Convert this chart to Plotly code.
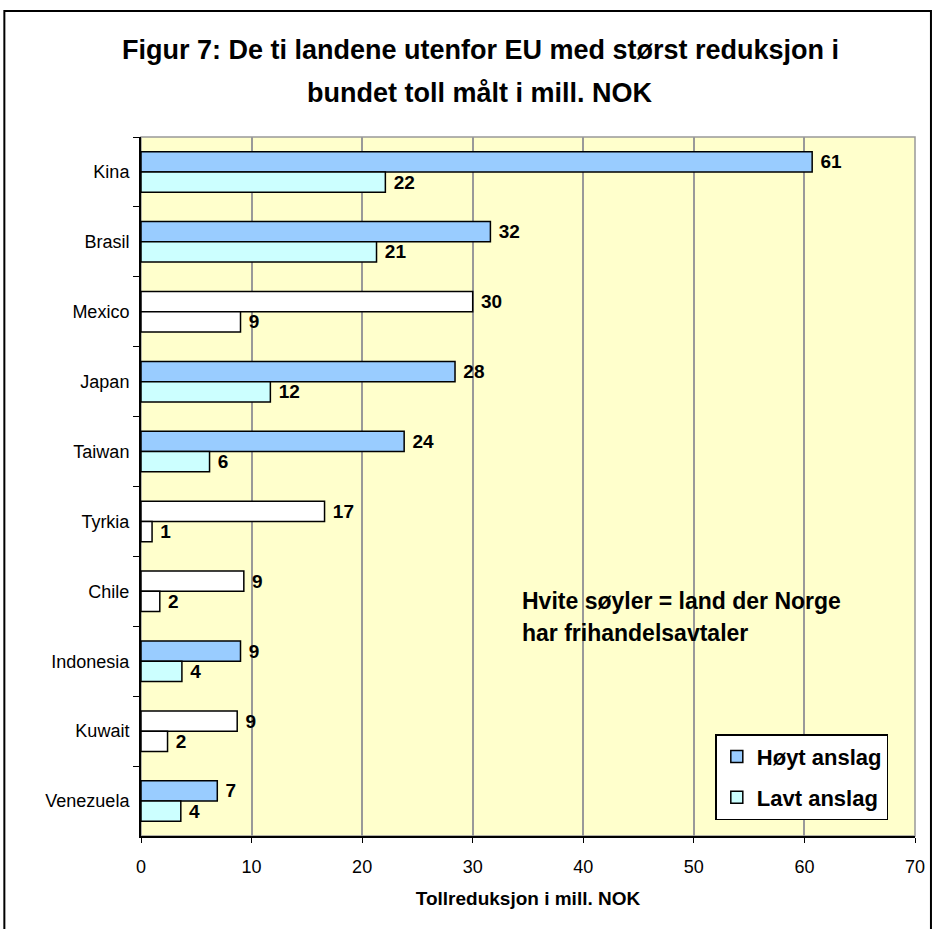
import plotly.graph_objects as go

# Data
countries = ['Kina', 'Brasil', 'Mexico', 'Japan', 'Taiwan',
             'Tyrkia', 'Chile', 'Indonesia', 'Kuwait', 'Venezuela']
high = [60.7, 31.6, 30.0, 28.4, 23.8, 16.6, 9.3, 9.0, 8.7, 6.9]
low = [22.1, 21.3, 9.0, 11.7, 6.2, 1.0, 1.7, 3.7, 2.4, 3.6]
free_trade = ['Mexico', 'Tyrkia', 'Chile', 'Kuwait']

HIGH_COLOR = '#99CCFF'
LOW_COLOR = '#CCFFFF'
FONT = 'Arial, Liberation Sans, sans-serif'


def colors(base):
    return ['white' if c in free_trade else base for c in countries]


fig = go.Figure()

for name, values, base, group in [('Høyt anslag', high, HIGH_COLOR, 'high'),
                                   ('Lavt anslag', low, LOW_COLOR, 'low')]:
    fig.add_trace(
        go.Bar(
            y=countries,
            x=values,
            orientation='h',
            name=f'<b>{name}</b>',
            legendgroup=group,
            marker=dict(color=colors(base), line=dict(color='black', width=1.5)),
            text=[f'\u00a0<b>{v:.0f}</b>' for v in values],
            textposition='outside',
            constraintext='none',
            textfont=dict(family=FONT, size=19, color='black'),
            cliponaxis=False,
            hoverinfo='skip',
        )
    )

fig.update_layout(
    width=937,
    height=929,
    margin=dict(l=141, r=20, t=137, b=93),
    barmode='group',
    bargap=0.42,
    bargroupgap=0,
    paper_bgcolor='white',
    plot_bgcolor='#FFFFCC',
    font=dict(family=FONT, size=18, color='black'),
    xaxis=dict(
        range=[0, 70],
        dtick=10,
        showgrid=True,
        gridcolor='#999999',
        gridwidth=1.5,
        zeroline=False,
        showline=True,
        linecolor='black',
        linewidth=2,
        ticks='outside',
        ticklen=5,
        tickcolor='black',
        ticklabelstandoff=8,
        tickfont=dict(size=18),
        title=dict(
            text='<b>Tollreduksjon i mill. NOK</b>',
            font=dict(size=19),
            standoff=16,
        ),
    ),
    yaxis=dict(
        autorange='reversed',
        showgrid=False,
        showline=True,
        linecolor='black',
        linewidth=2,
        ticks='outside',
        tickson='boundaries',
        ticklen=6,
        tickcolor='black',
        ticklabelstandoff=6,
        tickfont=dict(size=18),
    ),
    legend=dict(
        x=0.742,
        y=0.1455,
        xanchor='left',
        yanchor='top',
        bgcolor='white',
        bordercolor='black',
        borderwidth=1.5,
        font=dict(size=22, color='black'),
        traceorder='grouped',
        tracegroupgap=9,
        itemwidth=30,
    ),
    showlegend=True,
)

# title, two lines placed separately to get the wide line spacing
title_lines = ['Figur 7: De ti landene utenfor EU med størst reduksjon i',
               'bundet toll målt i mill. NOK']
for i, line in enumerate(title_lines):
    fig.add_annotation(
        text=f'<b>{line}</b>',
        xref='paper', yref='paper',
        x=0.438, y=(836 - 50 - 43 * i) / 699,
        xanchor='center', yanchor='middle',
        showarrow=False,
        font=dict(family=FONT, size=27, color='black'),
    )

note_lines = ['Hvite søyler = land der Norge', 'har frihandelsavtaler']
for i, line in enumerate(note_lines):
    fig.add_annotation(
        text=f'<b>{line}</b>',
        x=34.3, xref='x',
        yref='paper', y=(836 - 601 - 32 * i) / 699,
        xanchor='left', yanchor='middle',
        showarrow=False,
        font=dict(family=FONT, size=23, color='black'),
    )

# plot-area border and outer chart frame
fig.add_shape(type='rect', xref='paper', yref='paper', x0=0, x1=1, y0=0, y1=1,
              line=dict(color='#999999', width=1.5), layer='below')
fig.add_shape(type='rect', xref='paper', yref='paper',
              x0=(4 - 141) / 776, x1=(933 - 141) / 776,
              y0=(836 - 940) / 699, y1=(836 - 11) / 699,
              line=dict(color='black', width=2))

# drop the default body margin so the figure sits at the page corner
fig.write_html('out.html', config={'displayModeBar': False},
               post_script="document.body.style.margin='0';")
